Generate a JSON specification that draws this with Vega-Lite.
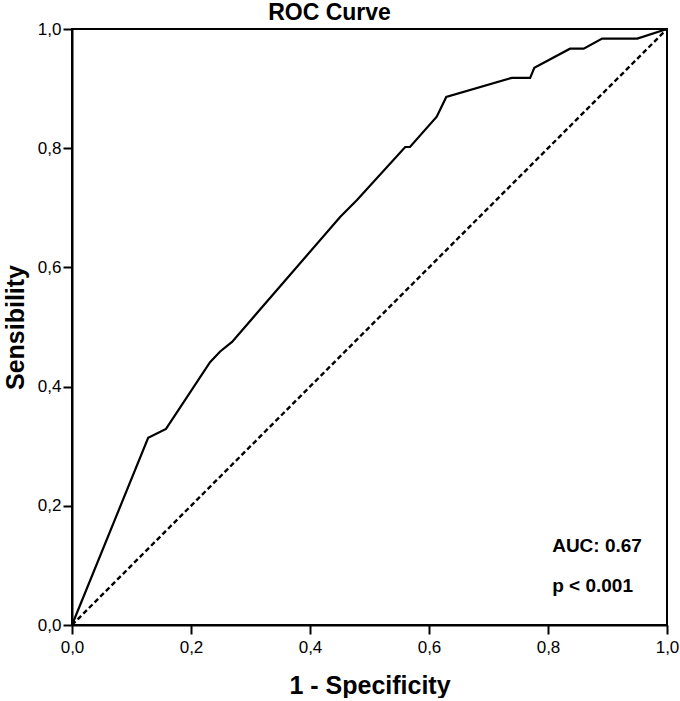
{
  "$schema": "https://vega.github.io/schema/vega-lite/v6.json",
  "width": 595,
  "height": 596,
  "padding": {"left": 3, "top": 2, "right": 8, "bottom": 0},
  "background": "white",
  "title": {"text": "ROC Curve", "fontSize": 23, "font": "Liberation Sans", "fontWeight": "bold", "color": "black", "anchor": "middle", "dx": -40, "offset": -5},
  "datasets": {
    "roc": [
      {"fpr": 0, "tpr": 0},
      {"fpr": 0.128, "tpr": 0.314},
      {"fpr": 0.158, "tpr": 0.329},
      {"fpr": 0.232, "tpr": 0.441},
      {"fpr": 0.249, "tpr": 0.459},
      {"fpr": 0.269, "tpr": 0.475},
      {"fpr": 0.451, "tpr": 0.685},
      {"fpr": 0.479, "tpr": 0.713},
      {"fpr": 0.560, "tpr": 0.802},
      {"fpr": 0.568, "tpr": 0.802},
      {"fpr": 0.613, "tpr": 0.853},
      {"fpr": 0.629, "tpr": 0.886},
      {"fpr": 0.739, "tpr": 0.918},
      {"fpr": 0.770, "tpr": 0.918},
      {"fpr": 0.777, "tpr": 0.935},
      {"fpr": 0.837, "tpr": 0.967},
      {"fpr": 0.860, "tpr": 0.967},
      {"fpr": 0.891, "tpr": 0.984},
      {"fpr": 0.950, "tpr": 0.984},
      {"fpr": 1, "tpr": 1}
    ],
    "diag": [
      {"fpr": 0, "tpr": 0},
      {"fpr": 1, "tpr": 1}
    ],
    "notes": [
      {"fpr": 0.807, "tpr": 0.122, "label": "AUC: 0.67"},
      {"fpr": 0.807, "tpr": 0.056, "label": "p < 0.001"}
    ]
  },
  "layer": [
    {
      "data": {"name": "diag"},
      "mark": {"type": "line", "color": "black", "strokeWidth": 2.4, "strokeDash": [5, 3]},
      "encoding": {
        "x": {"field": "fpr", "type": "quantitative"},
        "y": {"field": "tpr", "type": "quantitative"}
      }
    },
    {
      "data": {"name": "roc"},
      "mark": {"type": "line", "color": "black", "strokeWidth": 2.2},
      "encoding": {
        "x": {
          "field": "fpr", "type": "quantitative",
          "scale": {"domain": [0, 1], "nice": false},
          "axis": {
            "title": "1 - Specificity",
            "values": [0, 0.2, 0.4, 0.6, 0.8, 1],
            "labelExpr": "replace(format(datum.value, '.1f'), '.', ',')",
            "grid": false,
            "titlePadding": 18
          }
        },
        "y": {
          "field": "tpr", "type": "quantitative",
          "scale": {"domain": [0, 1], "nice": false},
          "axis": {
            "title": "Sensibility",
            "values": [0, 0.2, 0.4, 0.6, 0.8, 1],
            "labelExpr": "replace(format(datum.value, '.1f'), '.', ',')",
            "grid": false,
            "titlePadding": 9
          }
        }
      }
    },
    {
      "data": {"name": "notes"},
      "mark": {"type": "text", "align": "left", "baseline": "alphabetic", "fontSize": 19, "fontWeight": "bold", "font": "Liberation Sans", "color": "black"},
      "encoding": {
        "x": {"field": "fpr", "type": "quantitative"},
        "y": {"field": "tpr", "type": "quantitative"},
        "text": {"field": "label"}
      }
    }
  ],
  "config": {
    "font": "Liberation Sans",
    "view": {"stroke": "black", "strokeWidth": 2},
    "axis": {
      "domainColor": "black",
      "domainWidth": 2,
      "tickColor": "black",
      "tickWidth": 2,
      "tickSize": 9,
      "labelFont": "Liberation Sans",
      "labelFontSize": 17,
      "labelColor": "black",
      "labelPadding": 2,
      "titleFont": "Liberation Sans",
      "titleFontSize": 25,
      "titleFontWeight": "bold",
      "titleColor": "black",
      "labelFlush": false,
      "labelOverlap": false
    },
    "axisX": {"labelPadding": 5}
  }
}
